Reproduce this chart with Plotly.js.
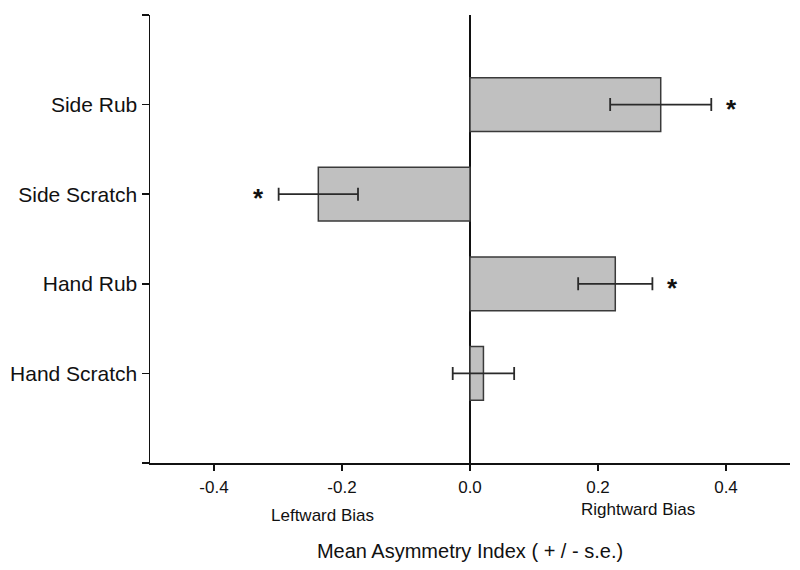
<!DOCTYPE html>
<html>
<head>
<meta charset="utf-8">
<script src="https://cdn.plot.ly/plotly-3.0.1.min.js"></script>
<style>
  html, body { margin: 0; padding: 0; background: #fff; }
  #plot { width: 800px; height: 570px; }
</style>
</head>
<body>
<div id="plot"></div>
<script>
// behaviours, top to bottom as in the figure
const behaviours = ["Side Rub", "Side Scratch", "Hand Rub", "Hand Scratch"];
const meanIndex  = [0.298, -0.237, 0.227, 0.021];
const stdErr     = [0.079, 0.062, 0.058, 0.048];
const significant = [true, true, true, false];
const xTicks = [-0.4, -0.2, 0, 0.2, 0.4];

const FONT = "Liberation Sans, Arial, Helvetica, sans-serif";

// numeric rows so the axis can carry end ticks at -1 and 4
const nRows = behaviours.length;
const rowPos = behaviours.map((b, i) => nRows - 1 - i);

const bars = {
  type: "bar",
  orientation: "h",
  x: meanIndex,
  y: rowPos,
  width: 0.6,
  marker: { color: "#c0c0c0", line: { color: "#3a3a3a", width: 1.5 } },
  error_x: { type: "data", array: stdErr, visible: true, color: "#2a2a2a", thickness: 1.8, width: 6.5 },
  hoverinfo: "x+y"
};

// stars beyond the error bar end
const starGap = 0.032;
const stars = [];
behaviours.forEach((b, i) => {
  if (!significant[i]) return;
  const s = meanIndex[i] >= 0 ? 1 : -1;
  stars.push({
    x: meanIndex[i] + s * (stdErr[i] + starGap), y: rowPos[i],
    xref: "x", yref: "y", text: "<b>*</b>", showarrow: false,
    font: { family: FONT, size: 26, color: "#111" }, yshift: -4
  });
});

const sideLabels = [
  { x: -0.23, y: -0.117, xref: "x", yref: "paper", yanchor: "middle", text: "Leftward Bias", showarrow: false,
    font: { family: FONT, size: 17, color: "#111" } },
  { x: 0.262, y: -0.103, xref: "x", yref: "paper", yanchor: "middle", text: "Rightward Bias", showarrow: false,
    font: { family: FONT, size: 17, color: "#111" } }
];

const layout = {
  width: 800,
  height: 570,
  margin: { l: 150, r: 10, t: 15, b: 107 },
  paper_bgcolor: "#fff",
  plot_bgcolor: "#fff",
  showlegend: false,
  font: { family: FONT, color: "#111" },
  xaxis: {
    range: [-0.5, 0.5],
    tickvals: xTicks,
    ticktext: xTicks.map(v => v.toFixed(1)),
    ticks: "outside", ticklen: 6, tickwidth: 1.5, tickcolor: "#111",
    ticklabelstandoff: 2,
    showline: true, linecolor: "#111", linewidth: 1.5,
    showgrid: false,
    zeroline: true, zerolinecolor: "#111", zerolinewidth: 1.5,
    tickfont: { family: FONT, size: 17, color: "#111" },
    title: { text: "Mean Asymmetry Index ( + / - s.e.)", font: { family: FONT, size: 20, color: "#111" }, standoff: 48 }
  },
  yaxis: {
    range: [-1, 4],
    tickvals: [-1].concat(rowPos, [4]),
    ticktext: [""].concat(behaviours, [""]),
    ticks: "outside", ticklen: 7, tickwidth: 1.5, tickcolor: "#111",
    showline: true, linecolor: "#111", linewidth: 1.5,
    showgrid: false, zeroline: false,
    tickfont: { family: FONT, size: 21, color: "#111" }
  },
  annotations: stars.concat(sideLabels)
};

Plotly.newPlot("plot", [bars], layout, { displayModeBar: false, staticPlot: true });
</script>
</body>
</html>
